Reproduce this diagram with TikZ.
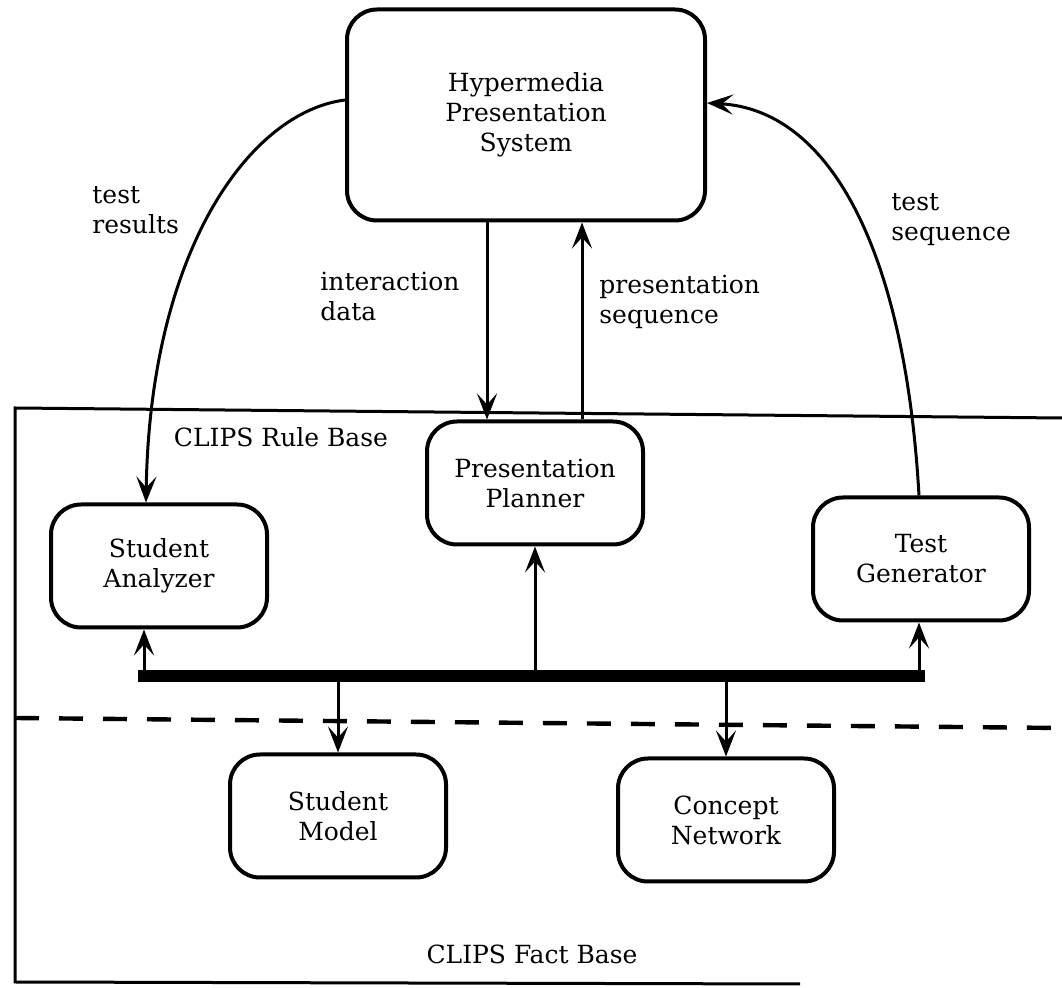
\documentclass[tikz,border=0pt]{standalone}
\usepackage{fontspec}
\setmainfont{DejaVu Serif}
\usetikzlibrary{arrows.meta}

\begin{document}
\begin{tikzpicture}[x=0.5pt,y=-0.5pt,
    module/.style={draw, line width=2pt, rounded corners=15pt, minimum width=108pt,
      minimum height=61.5pt, align=center, inner sep=0pt, font=\fontsize{12.5}{15}\selectfont},
    flowlabel/.style={anchor=west, align=left, inner sep=0pt, font=\fontsize{12.5}{15}\selectfont},
    baselabel/.style={inner sep=0pt, font=\fontsize{12.5}{15}\selectfont},
    flow/.style={line width=1.5pt, -{Stealth[length=13pt,width=10pt,inset=5.5pt]}},
    bus/.style={line width=6pt},
    baseframe/.style={line width=1.5pt},
    divider/.style={line width=2.2pt, dash pattern=on 12pt off 10pt}]
  \useasboundingbox (0,0) rectangle (1062,988);

  %Shapes: rule base / fact base frame
  \draw[baseframe] (1062,418) -- (15,408) -- (15,982) -- (800,984);
  \draw[divider] (15,718) -- (1062,728);

  %Shapes: modules
  \node[module, minimum width=179pt, minimum height=105.5pt] (hps) at (526,115)
    {Hypermedia\\Presentation\\System};
  \node[module] (sa) at (159,566) {Student\\Analyzer};
  \node[module] (pp) at (535,483) {Presentation\\Planner};
  \node[module] (tg) at (921,559) {Test\\Generator};
  \node[module] (sm) at (338,816) {Student\\Model};
  \node[module] (cn) at (726,820) {Concept\\Network};

  % Text Node
  \node[baselabel] (rulebase) at (281,437) {CLIPS Rule Base};
  \node[baselabel] (factbase) at (532,954) {CLIPS Fact Base};

  %Shape: bus
  \coordinate (busL) at (144,676);
  \coordinate (busR) at (919,676);
  \draw[bus] ([xshift=-3pt]busL) -- ([xshift=3pt]busR);
  \draw[flow] (busL) -- (busL |- sa.south);
  \draw[flow] (pp.south |- busL) -- (pp.south);
  \draw[flow] (busR) -- (busR |- tg.south);
  \draw[flow] (sm.north |- busL) -- (sm.north);
  \draw[flow] (cn.north |- busL) -- (cn.north);

  %Straight Lines: planner <-> presentation system
  \coordinate (idata) at ([xshift=-24pt]pp.north);
  \coordinate (pseq) at ([xshift=23.5pt]pp.north);
  \draw[flow] (idata |- hps.south) -- (idata);
  \draw[flow] (pseq) -- (pseq |- hps.south);

  %Curves: tests
  \draw[flow] ([yshift=7.5pt]hps.west) .. controls (250,112) and (150,250) .. ([xshift=-6.5pt]sa.north);
  \draw[flow] ([xshift=-1pt]tg.north) .. controls (905,250) and (830,110) .. ([yshift=6pt]hps.east);

  % Text Node
  \node[flowlabel] (lresults) at (92,210) {test\\results};
  \node[flowlabel] (linteract) at (320,296) {interaction\\data};
  \node[flowlabel] (lpresent) at (599,302) {presentation\\sequence};
  \node[flowlabel] (ltestseq) at (891,220) {test\\sequence};
\end{tikzpicture}
\end{document}
